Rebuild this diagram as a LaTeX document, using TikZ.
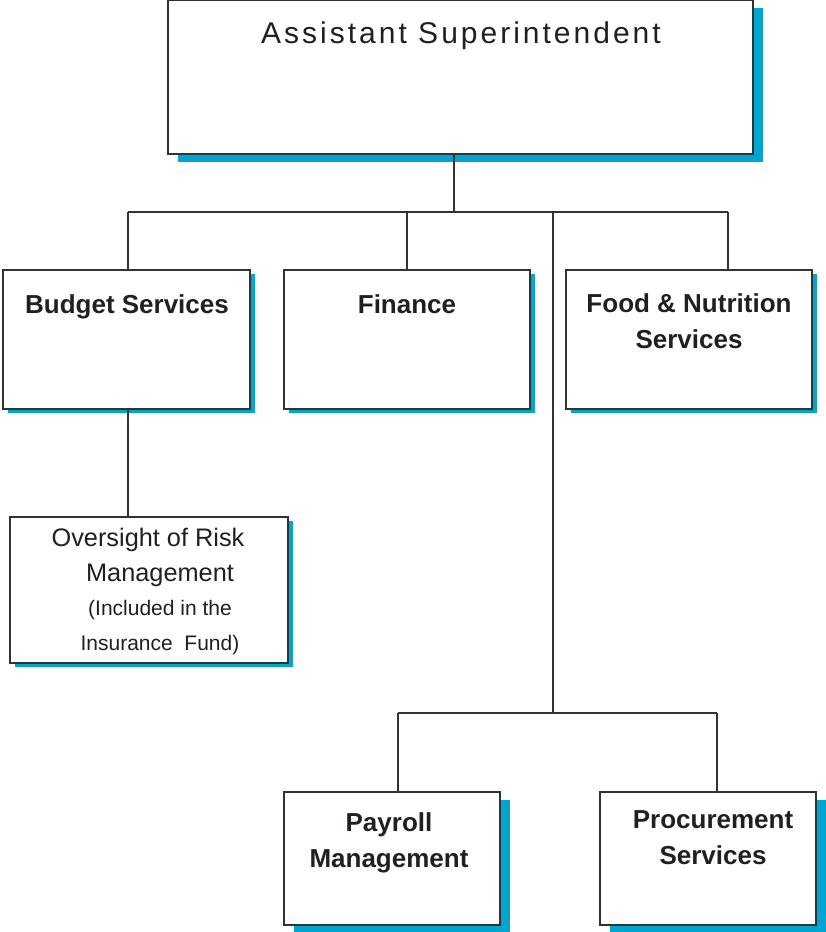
\documentclass[tikz,border=0pt]{standalone}
\usepackage{fontspec}
\setmainfont{Liberation Sans}
\newfontfamily\titlefont[LetterSpace=10]{Liberation Sans}
\usetikzlibrary{fit,shadows}
\definecolor{shadowblue}{RGB}{0,166,206}
\definecolor{boxline}{RGB}{51,51,51}
\definecolor{ink}{RGB}{35,31,32}
\begin{document}
\begin{tikzpicture}[x=0.75pt,y=-0.75pt,
  unit/.style={draw=boxline, fill=white, line width=1.1pt, inner sep=0pt, fit={#1}},
  deep/.style={drop shadow={shadow xshift=7.5pt, shadow yshift=-6pt, fill=shadowblue, opacity=1}},
  flat/.style={drop shadow={shadow xshift=3.75pt, shadow yshift=-3pt, fill=shadowblue, opacity=1}},
  head/.style={font=\bfseries\fontsize{19.5}{26.5}\selectfont, text=ink, align=center, anchor=base, inner sep=0pt},
  plain/.style={font=\fontsize{19}{26.25}\selectfont, text=ink, align=center, anchor=base, inner sep=0pt},
  small/.style={font=\fontsize{15.75}{26.25}\selectfont, text=ink, align=center, anchor=base, inner sep=0pt},
  link/.style={draw=boxline, line width=0.9pt}]
\useasboundingbox (0,0) rectangle (825,932);
% boxes
\node[unit={(168,0) (753,154)}, deep] (top) {};
\node[unit={(3,270) (250,409)}, flat] (budget) {};
\node[unit={(284,270) (530,409)}, flat] (finance) {};
\node[unit={(566,270) (812,409)}, flat] (food) {};
\node[unit={(10,517) (288,663)}, flat] (risk) {};
\node[unit={(284,792) (500,925)}, deep] (payroll) {};
\node[unit={(600,792) (816,925)}, deep] (procure) {};
% labels (base = last line)
\node[font=\titlefont\fontsize{22.5}{26}\selectfont, text=ink, anchor=base, inner sep=0pt] (top-text) at (461,43) {Assistant Superintendent};
\node[head] (budget-text) at (127,313) {Budget Services};
\node[head] (finance-text) at (407,313) {Finance};
\node[head] (food-text) at (689,348) {Food \& Nutrition\\Services};
\node[plain] (risk-title) at (148,546) {Oversight of Risk};
\node[plain] (risk-sub) at (160,581) {Management};
\node[small] (risk-note) at (160,650) {(Included in the\\Insurance\ \ Fund)};
\node[head] (payroll-text) at (389,867) {Payroll\\Management};
\node[head] (procure-text) at (713,864) {Procurement\\Services};
% connectors
\coordinate (b0) at (454,212);
\coordinate (b1) at (128,212);
\coordinate (b2) at (407,212);
\coordinate (b3) at (553,212);
\coordinate (b4) at (728,212);
\coordinate (c0) at (553,713);
\coordinate (c1) at (398,713);
\coordinate (c2) at (717,713);
\draw[link] (top.south -| b0) -- (b0);
\draw[link] (b1) -- (b4);
\draw[link] (b1) -- (budget.north -| b1);
\draw[link] (b2) -- (finance.north -| b2);
\draw[link] (b4) -- (food.north -| b4);
\draw[link] (budget.south -| b1) -- (risk.north -| b1);
\draw[link] (b3) -- (c0);
\draw[link] (c1) -- (c2);
\draw[link] (c1) -- (payroll.north -| c1);
\draw[link] (c2) -- (procure.north -| c2);
\end{tikzpicture}
\end{document}
